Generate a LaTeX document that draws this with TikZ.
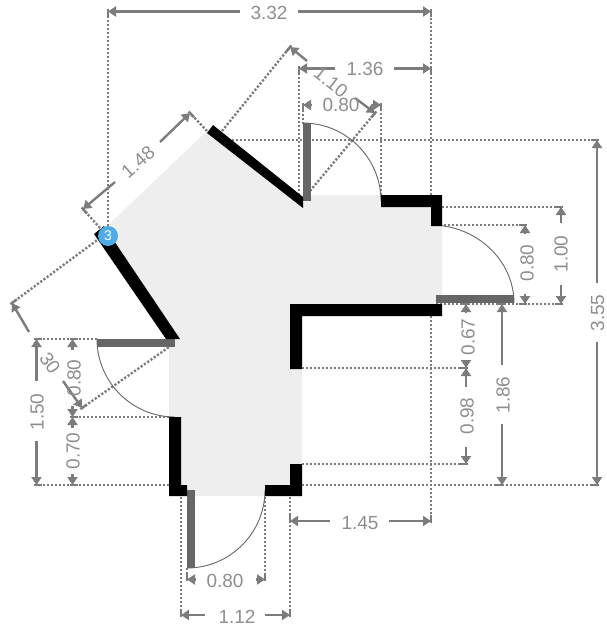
\documentclass[tikz,border=0pt]{standalone}
\usepackage{fontspec}
\setmainfont{Liberation Sans}
\usetikzlibrary{arrows.meta,calc}
\definecolor{dimc}{HTML}{7C7C7C}
\definecolor{textc}{HTML}{8E8E8E}
\definecolor{leafc}{HTML}{666666}
\definecolor{floorc}{HTML}{EEEEEE}
\definecolor{badgec}{HTML}{4FAAE8}
\tikzset{
  extline/.style={draw=dimc,line width=2.4pt,dash pattern=on 2.2pt off 1.8pt},
  exttick/.style={draw=dimc,line width=2.4pt},
  dimline/.style={draw=dimc,line width=2.4pt,-{Triangle[length=8pt,width=10pt]}},
  wall/.style={fill=black,draw=none},
  leaf/.style={fill=leafc,draw=none},
  swing/.style={draw=leafc,line width=0.9pt},
  dimlabel/.style={text=textc,font=\fontsize{19}{19}\selectfont,inner sep=0pt},
}
\newcommand{\extl}[2]{\draw[extline] (#2) -- (#1);\draw[exttick] ($(#1)!-2pt!(#2)$) -- ($(#1)!6pt!(#2)$);}
\newcommand{\dimar}[2]{\draw[dimline] (#1) -- (#2);}
\begin{document}
\begin{tikzpicture}[x=1pt,y=-1pt]
\useasboundingbox (0,0) rectangle (606,627);
% floor
\fill[floorc] (207,131) -- (303,200) -- (303,195) -- (431,195) -- (431,225) -- (442,225) -- (442,304) -- (302,304) -- (302,496) -- (169,496) -- (169,340) -- (175,339) -- (105,228) -- cycle;
% extension lines
\extl{108,11}{108,226}
\extl{431,11}{431,68}
\extl{431,68}{431,195}
\extl{299,68}{299,195}
\extl{303,105}{303,124}
\extl{381,105}{381,195}
\extl{290,47}{222,131}
\extl{375,113}{310,191}
\extl{83,209}{100,228}
\extl{190,113}{207,131}
\extl{12,303}{100,238}
\extl{82,408}{172,345}
\extl{36,339}{97,339}
\extl{72,339}{97,339}
\extl{72,417}{169,417}
\extl{36,485}{169,485}
\extl{72,485}{169,485}
\extl{181,615}{181,497}
\extl{187,579}{187,568}
\extl{265,579}{265,497}
\extl{290,615}{290,497}
\extl{290,521}{290,497}
\extl{431,521}{431,316}
\extl{525,225}{432,225}
\extl{525,304}{436,304}
\extl{561,207}{442,207}
\extl{561,304}{436,304}
\extl{597,140}{232,140}
\extl{597,485}{302,485}
\extl{502,304}{436,304}
\extl{502,485}{302,485}
\extl{466,304}{436,304}
\extl{466,368}{302,368}
\extl{466,464}{302,464}
% door leaves
\fill[leaf] (303,123) rectangle (311,201);
\fill[leaf] (436,295) rectangle (514,303);
\fill[leaf] (97,339) rectangle (175,347);
\fill[leaf] (187,490) rectangle (195,568);
% door swings
\draw[swing] (303,123) .. controls (346,123) and (381,158) .. (381,201);
\draw[swing] (431,225) .. controls (476,225) and (514,260) .. (514,303);
\draw[swing] (97,339) .. controls (97,382) and (132,417) .. (175,417);
\draw[swing] (187,568) .. controls (230,568) and (265,533) .. (265,490);
% walls
\fill[wall] (213,125) -- (303,197) -- (303,208) -- (207,133) -- cycle;
\fill[wall] (94,234) -- (104,226) -- (180,339) -- (166,339) -- cycle;
\fill[wall] (381,195) -- (442,195) -- (442,226) -- (431,226) -- (431,207) -- (381,207) -- cycle;
\fill[wall] (290,304) -- (442,304) -- (442,316) -- (302,316) -- (302,369) -- (290,369) -- cycle;
\fill[wall] (169,417) -- (181,417) -- (181,485) -- (187,485) -- (187,496) -- (169,496) -- cycle;
\fill[wall] (265,485) -- (290,485) -- (290,464) -- (302,464) -- (302,496) -- (265,496) -- cycle;
% dimension arrows
\dimar{240,11.5}{108,11.5}
\dimar{298,11.5}{431,11.5}
\dimar{335,68.5}{299,68.5}
\dimar{394,68.5}{431,68.5}
\dimar{312,105}{303,105}
\dimar{372,105}{381,105}
\dimar{307,61}{290,47}
\dimar{355,98}{375,113}
\dimar{115,182}{83,209}
\dimar{160,142}{190,113}
\dimar{29,332}{12,303}
\dimar{63,381}{82,408}
\dimar{36.5,381}{36.5,339}
\dimar{36.5,441}{36.5,485}
\dimar{72.5,350}{72.5,339}
\dimar{72.5,406}{72.5,417}
\dimar{72.5,428}{72.5,417}
\dimar{72.5,474}{72.5,485}
\dimar{196,579.5}{187,579.5}
\dimar{256,579.5}{265,579.5}
\dimar{205,615}{181,615}
\dimar{265,615}{290,615}
\dimar{330,521}{290,521}
\dimar{389,521}{431,521}
\dimar{525,234}{525,225}
\dimar{525,294}{525,304}
\dimar{561,223}{561,207}
\dimar{561,285}{561,304}
\dimar{597,283}{597,140}
\dimar{597,342}{597,485}
\dimar{502,365}{502,304}
\dimar{502,424}{502,485}
\dimar{466,312}{466,304}
\dimar{466,360}{466,368}
\dimar{466,387}{466,368}
\dimar{466,447}{466,464}
% labels
\node[dimlabel] (t332) at (269,13) {3.32};
\node[dimlabel] (t136) at (365,69) {1.36};
\node[dimlabel] (t080a) at (341,105) {0.80};
\node[dimlabel,rotate=-38] (t110) at (331,82) {1.10};
\node[dimlabel,rotate=41] (t148) at (138,162) {1.48};
\node[dimlabel,rotate=-55] (t30) at (50,363) {30};
\node[dimlabel,rotate=90] (t150) at (37,412) {1.50};
\node[dimlabel,rotate=90] (t080b) at (74,378) {0.80};
\node[dimlabel,rotate=90] (t070) at (73,451) {0.70};
\node[dimlabel] (t080c) at (225,581) {0.80};
\node[dimlabel] (t112) at (237,617) {1.12};
\node[dimlabel] (t145) at (360,523) {1.45};
\node[dimlabel,rotate=90] (t080d) at (527,263) {0.80};
\node[dimlabel,rotate=90] (t100) at (561,254) {1.00};
\node[dimlabel,rotate=90] (t355) at (597.5,313) {3.55};
\node[dimlabel,rotate=90] (t186) at (503,395) {1.86};
\node[dimlabel,rotate=90] (t067) at (468,337) {0.67};
\node[dimlabel,rotate=90] (t098) at (467,416) {0.98};
% badge
\node[circle,fill=badgec,text=white,inner sep=0pt,minimum size=20pt,font=\fontsize{14}{14}\selectfont] (badge) at (108,236) {3};
\end{tikzpicture}
\end{document}
